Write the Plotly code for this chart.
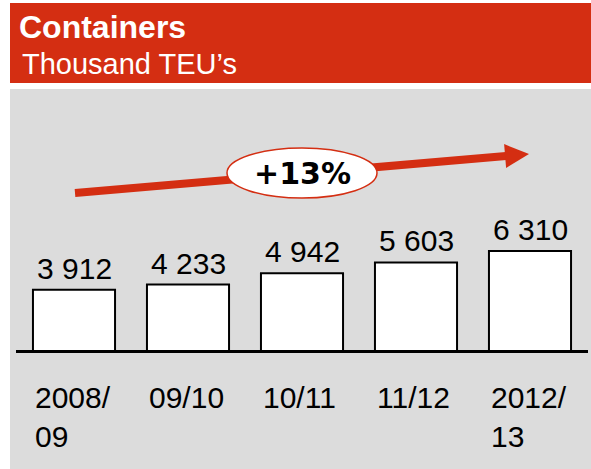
import plotly.graph_objects as go

# ---- data ----
categories = ["2008/09", "09/10", "10/11", "11/12", "2012/13"]
tick_labels = ["2008/<br>09", "09/10", "10/11", "11/12", "2012/<br>13"]
values = [3912, 4233, 4942, 5603, 6310]
title_main = "Containers"
title_sub = "Thousand TEU\u2019s"
growth_label = "+13%"

# ---- layout geometry (pixels) ----
FW, FH = 591, 469
L, R, T, B = 17, 587, 130, 353
W, H = R - L, B - T
RED = "#d42e12"
GREY = "#dcdcdc"
BAR_W = 0.72


def px(x):
    return (x - L) / W


def py(y):
    return (B - y) / H


value_text = [f"{v:,}".replace(",", " ") for v in values]

fig = go.Figure()
fig.add_trace(go.Bar(
    x=categories, y=values, width=BAR_W,
    marker=dict(color="white", line=dict(color="black", width=2)),
    cliponaxis=False, hoverinfo="skip",
))

shapes = [
    # red header
    dict(type="rect", xref="paper", yref="paper", x0=px(10), x1=px(591), y0=py(83), y1=py(3),
         fillcolor=RED, line=dict(width=0), layer="below"),
    # grey panel
    dict(type="rect", xref="paper", yref="paper", x0=px(10), x1=px(591), y0=py(469), y1=py(89),
         fillcolor=GREY, line=dict(width=0), layer="below"),
    # baseline
    dict(type="line", xref="paper", yref="y", x0=px(16), x1=px(588), y0=0, y1=0,
         line=dict(color="black", width=6), layer="above"),
    # growth arrow shaft
    dict(type="line", xref="paper", yref="paper", x0=px(75), y0=py(193), x1=px(506), y1=py(156),
         line=dict(color=RED, width=8), layer="above"),
    # arrow head
    dict(type="path", xref="paper", yref="paper",
         path=f"M {px(506.1)},{py(168)} L {px(504.1)},{py(144.1)} L {px(529)},{py(154)} Z",
         fillcolor=RED, line=dict(width=0), layer="above"),
    # ellipse
    dict(type="circle", xref="paper", yref="paper", x0=px(227), x1=px(377), y0=py(198), y1=py(148),
         fillcolor="white", line=dict(color=RED, width=1.5), layer="above"),
]

annotations = [
    dict(text=f"<b>{title_main}</b>", xref="paper", yref="paper", x=px(17), y=py(27),
         xanchor="left", yanchor="middle", showarrow=False,
         font=dict(family="Liberation Sans", size=32, color="white")),
    dict(text=title_sub, xref="paper", yref="paper", x=px(20), y=py(64),
         xanchor="left", yanchor="middle", showarrow=False,
         font=dict(family="Liberation Sans", size=29, color="white")),
    dict(text=f"<b>{growth_label}</b>", xref="paper", yref="paper", x=px(302), y=py(173),
         xanchor="center", yanchor="middle", showarrow=False,
         font=dict(family="DejaVu Sans", size=30, color="black")),
]
for cat, v, t in zip(categories, values, value_text):
    annotations.append(dict(
        text=t, xref="x", yref="y", x=cat, y=v,
        xanchor="center", yanchor="bottom", yshift=3, showarrow=False,
        font=dict(family="Liberation Sans", size=30, color="black"),
    ))
for i, lab in enumerate(tick_labels):
    annotations.append(dict(
        text=lab, xref="x", yref="y", x=i - BAR_W / 2, y=0,
        xanchor="left", yanchor="top", align="left", yshift=-26, showarrow=False,
        font=dict(family="Liberation Sans", size=30, color="black"),
    ))

fig.update_layout(
    width=FW, height=FH,
    margin=dict(l=L, r=FW - R, t=T, b=FH - B, pad=0),
    paper_bgcolor="white", plot_bgcolor="rgba(0,0,0,0)",
    showlegend=False, bargap=0.28,
    xaxis=dict(type="category", range=[-0.5, 4.5], showticklabels=False, showgrid=False,
               zeroline=False, showline=False, ticks=""),
    yaxis=dict(range=[0, 13800], showticklabels=False, showgrid=False, zeroline=False,
               showline=False, ticks=""),
    shapes=shapes, annotations=annotations,
)

fig.write_html(
    "out.html",
    config={"displayModeBar": False},
    post_script="document.body.style.margin='0';document.body.style.overflow='hidden';",
)
